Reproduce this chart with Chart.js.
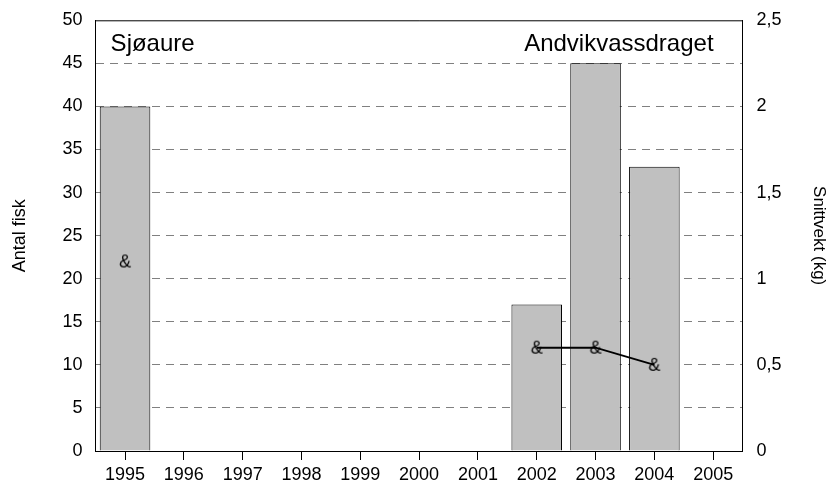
<!DOCTYPE html>
<html>
<head>
<meta charset="utf-8">
<script src="https://cdn.jsdelivr.net/npm/chart.js@4"></script>
<style>
  body { margin: 0; background: #fff; }
  canvas { display: block; }
</style>
</head>
<body>
<canvas id="fiskChart" width="829" height="483"></canvas>
<script>
    // Sjøaure, Andvikvassdraget
    var years = ['1995', '1996', '1997', '1998', '1999', '2000', '2001', '2002', '2003', '2004', '2005'];
    var antalFisk = [40, null, null, null, null, null, null, 17, 45, 33, null];
    var snittvekt = [1.1, null, null, null, null, null, null, 0.6, 0.6, 0.5, null];

    var fontFam = '"Liberation Sans", Arial, sans-serif';

    // "&" som punktmerke
    var amp = document.createElement('canvas');
    amp.width = 20;
    amp.height = 22;
    var actx = amp.getContext('2d');
    actx.font = '18px ' + fontFam;
    actx.fillStyle = '#000';
    actx.textAlign = 'center';
    actx.textBaseline = 'middle';
    actx.fillText('&', 10, 12);

    var labelsPlugin = {
        id: 'labelsPlugin',
        afterDraw: function (chart) {
            var c = chart.ctx, a = chart.chartArea;
            c.save();
            c.strokeStyle = '#000';
            c.lineWidth = 1;
            c.beginPath();
            c.moveTo(a.left, a.top + 0.5);
            c.lineTo(a.right, a.top + 0.5);
            c.stroke();
            c.fillStyle = '#000';
            c.font = '24px ' + fontFam;
            c.textBaseline = 'middle';
            c.textAlign = 'left';
            c.fillText('Sjøaure', a.left + 15, a.top + 24);
            c.textAlign = 'right';
            c.fillText('Andvikvassdraget', a.right - 29, a.top + 24);
            c.restore();
        }
    };

    var ctx = document.getElementById('fiskChart').getContext('2d');
    var fiskChart = new Chart(ctx, {
        type: 'bar',
        data: {
            labels: years,
            datasets: [{
                type: 'line',
                label: 'Snittvekt (kg)',
                data: snittvekt,
                yAxisID: 'y1',
                borderColor: '#000',
                borderWidth: 2,
                pointStyle: amp,
                spanGaps: false,
                order: 0
            }, {
                label: 'Antal fisk',
                data: antalFisk,
                yAxisID: 'y',
                backgroundColor: '#c0c0c0',
                borderColor: '#000',
                borderWidth: 1,
                barPercentage: 0.86,
                categoryPercentage: 1,
                order: 1
            }]
        },
        options: {
            responsive: false,
            animation: false,
            layout: { padding: { top: 0, right: 0, left: 0, bottom: -7 } },
            plugins: {
                legend: { display: false },
                tooltip: { enabled: false }
            },
            scales: {
                x: {
                    offset: true,
                    grid: {
                        offset: false,
                        drawOnChartArea: false,
                        tickLength: 9,
                        tickColor: '#000'
                    },
                    border: { color: '#000', width: 1 },
                    ticks: {
                        color: '#000',
                        font: { family: fontFam, size: 18, lineHeight: 1 },
                        maxRotation: 0,
                        autoSkip: false,
                        padding: 6
                    }
                },
                y: {
                    position: 'left',
                    min: 0,
                    max: 50,
                    ticks: {
                        stepSize: 5,
                        color: '#000',
                        font: { family: fontFam, size: 18, lineHeight: 0.7 },
                        padding: 13
                    },
                    grid: {
                        color: function (c) { return (c.tick.value === 0 || c.tick.value === 50) ? 'rgba(0,0,0,0)' : '#808080'; },
                        drawTicks: false
                    },
                    border: { color: '#000', width: 1, dash: [8, 6] },
                    title: {
                        display: true,
                        text: 'Antal fisk',
                        color: '#000',
                        font: { family: fontFam, size: 18 },
                        padding: { top: 9, bottom: 19 }
                    }
                },
                y1: {
                    position: 'right',
                    min: 0,
                    max: 2.5,
                    ticks: {
                        stepSize: 0.5,
                        color: '#000',
                        font: { family: fontFam, size: 18, lineHeight: 0.7 },
                        padding: 14,
                        callback: function (v) { return String(v).replace('.', ','); }
                    },
                    grid: { drawOnChartArea: false, drawTicks: false },
                    border: { color: '#000', width: 1 },
                    title: {
                        display: true,
                        text: 'Snittvekt (kg)',
                        color: '#000',
                        font: { family: fontFam, size: 17 },
                        padding: { top: 0, bottom: 13 }
                    }
                }
            }
        },
        plugins: [labelsPlugin]
    });
</script>
</body>
</html>
